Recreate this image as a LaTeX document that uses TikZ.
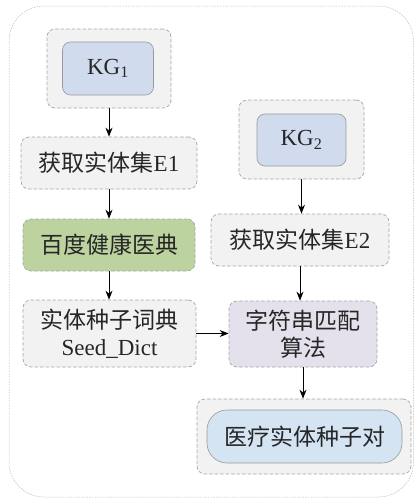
\documentclass[tikz,border=0pt]{standalone}
\usepackage{fontspec}
\setmainfont{Liberation Serif}
\newfontfamily\cjk{Noto Sans CJK SC}
\usetikzlibrary{arrows.meta,calc}
\definecolor{boxgray}{HTML}{F2F2F2}
\definecolor{boxedge}{HTML}{A6A6A6}
\definecolor{kgblue}{HTML}{D0DBEE}
\definecolor{bdgreen}{HTML}{BCD3A0}
\definecolor{lav}{HTML}{E5E1EC}
\definecolor{resblue}{HTML}{D4E4F2}
\definecolor{inedge}{HTML}{9A9A9A}
\tikzset{
  outerframe/.style={draw=boxedge!80, line width=0.5pt, dash pattern=on 1.5pt off 1.2pt, rounded corners=35pt},
  graybox/.style={draw=boxedge, fill=boxgray, line width=0.7pt, dash pattern=on 3.5pt off 2pt, rounded corners=8pt, inner sep=0pt, align=center},
  innerbox/.style={draw=inedge, line width=0.6pt, rounded corners=8pt, inner sep=0pt, align=center},
  arr/.style={-{Stealth[length=9pt,width=7pt]}, line width=0.9pt, black},
  txt/.style={font=\fontsize{23}{27}\selectfont, text=black!85}
}
\begin{document}
\begin{tikzpicture}[x=1pt,y=-1pt]
\useasboundingbox (0,0) rectangle (414,498);
\draw[outerframe] (9,6) rectangle (413.5,497);
% left column
\node[graybox, minimum width=124pt, minimum height=79pt] (kg1o) at (109,68.5) {};
\node[innerbox, fill=kgblue, minimum width=91pt, minimum height=53pt, txt] (kg1) at (108,68.5) {KG\textsubscript{1}};
\node[graybox, minimum width=176pt, minimum height=52pt, txt] (e1) at (109,163) {{\cjk 获取实体集}E1};
\node[graybox, fill=bdgreen, minimum width=172pt, minimum height=52pt, txt] (bd) at (109,245) {\cjk 百度健康医典};
\node[graybox, minimum width=173pt, minimum height=67pt, txt] (seed) at (109.5,333.5) {{\cjk 实体种子词典}\\Seed\_Dict};
% right column
\node[graybox, minimum width=125pt, minimum height=79pt] (kg2o) at (301.5,139.5) {};
\node[innerbox, fill=kgblue, minimum width=89pt, minimum height=52pt, txt] (kg2) at (301.5,140) {KG\textsubscript{2}};
\node[graybox, minimum width=178pt, minimum height=52pt, txt] (e2) at (300,240) {{\cjk 获取实体集}E2};
\node[graybox, fill=lav, minimum width=148pt, minimum height=66pt, txt] (match) at (303,334) {\cjk 字符串匹配\\\cjk 算法};
\node[graybox, minimum width=214pt, minimum height=75pt] (reso) at (304,436.5) {};
\node[innerbox, fill=resblue, rounded corners=20pt, minimum width=195pt, minimum height=53pt, txt] (res) at (304.5,436.5) {\cjk 医疗实体种子对};
% arrows
\draw[arr] (kg1o) -- (kg1o |- e1.north);
\draw[arr] (e1) -- (e1 |- bd.north);
\draw[arr] (bd) -- (bd |- seed.north);
\draw[arr] (kg2o) -- (kg2o |- e2.north);
\draw[arr] (e2) -- (e2 |- match.north);
\draw[arr] (match) -- (match |- reso.north);
\draw[arr] (seed) -- (match.west |- seed);
\end{tikzpicture}
\end{document}
